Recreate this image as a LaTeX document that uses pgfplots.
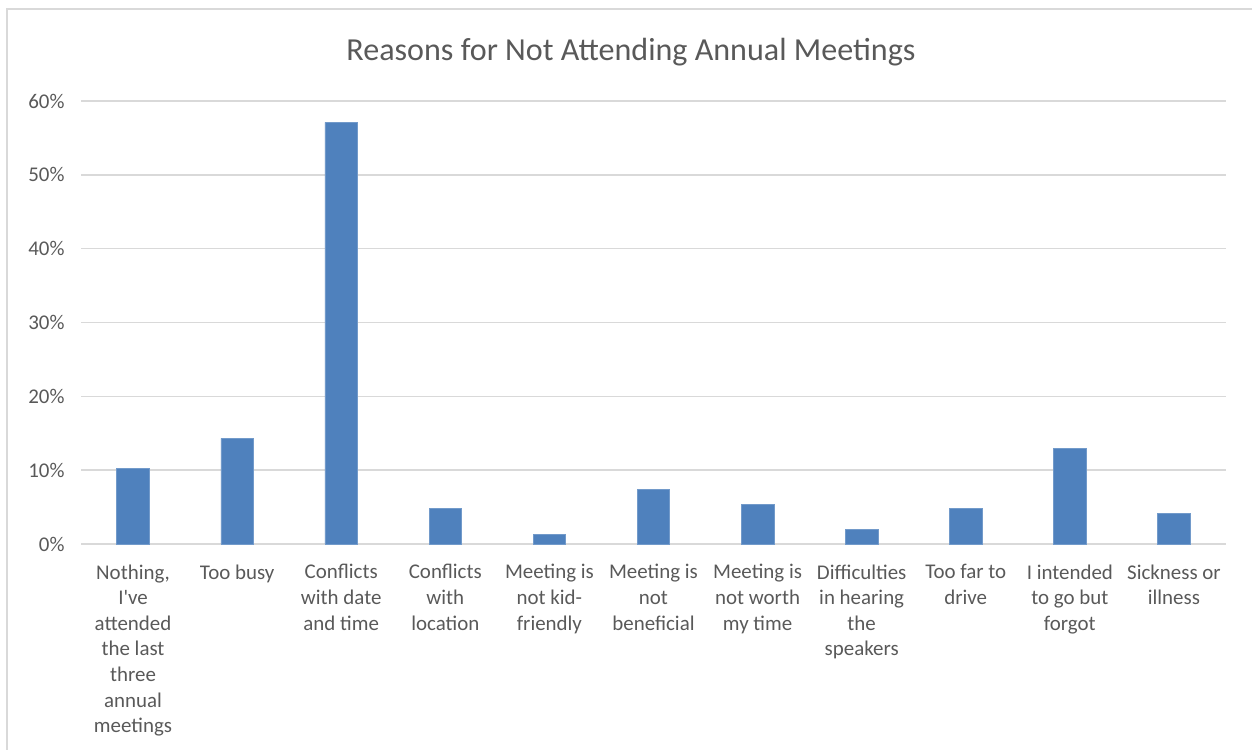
\documentclass[border=0pt]{standalone}
\usepackage{pgfplots}
\pgfplotsset{compat=1.18}
\usepackage{fontspec}
\setmainfont{Carlito}
\definecolor{barblue}{RGB}{79,129,189}
\definecolor{txtgray}{RGB}{89,89,89}
\definecolor{gridgray}{RGB}{217,217,217}
\begin{document}
\begin{tikzpicture}
\draw[gridgray, line width=1.5bp] (7bp,0bp) -- (7bp,741bp) -- (1252bp,741bp);
\node[anchor=base, text=txtgray, font=\fontsize{32.2}{38}\selectfont] at (631bp,689bp)
  {Reasons for Not Attending Annual Meetings};
\begin{axis}[
  at={(81bp,206bp)}, anchor=south west,
  scale only axis, width=1145bp, height=443bp,
  xmin=-0.5, xmax=10.5, ymin=0, ymax=60,
  ybar, bar width=32.5bp,
  xtick={0,...,10}, ytick={0,10,...,60},
  xticklabels={{Nothing,\\I\textquotesingle ve\\attended\\the last\\three\\annual\\meetings},
    {Too busy},
    {Conflicts\\with date\\and time},
    {Conflicts\\with\\location},
    {Meeting is\\not kid-\\friendly},
    {Meeting is\\not\\beneficial},
    {Meeting is\\not worth\\my time},
    {Difficulties\\in hearing\\the\\speakers},
    {Too far to\\drive},
    {I intended\\to go but\\forgot},
    {Sickness or\\illness}},
  yticklabel={\pgfmathprintnumber{\tick}\%},
  /pgf/number format/assume math mode=true,
  axis line style={draw=none},
  major tick length=0pt,
  ymajorgrids, grid style={gridgray, line width=1.4bp},
  tick label style={font=\fontsize{21}{25.7}\selectfont, text=txtgray},
  y tick label style={xshift=-13bp},
  x tick label style={align=center, anchor=north, yshift=-17bp},
  clip=false,
]
\addplot[fill=barblue, draw=barblue!80!white, line width=0.6bp] coordinates {
  (0,10.2) (1,14.3) (2,57.1) (3,4.8) (4,1.3) (5,7.4)
  (6,5.4) (7,2.0) (8,4.8) (9,12.9) (10,4.1)
};
\end{axis}
\pgfresetboundingbox
\path[use as bounding box] (0bp,0bp) rectangle (1252bp,750bp);
\end{tikzpicture}
\end{document}
